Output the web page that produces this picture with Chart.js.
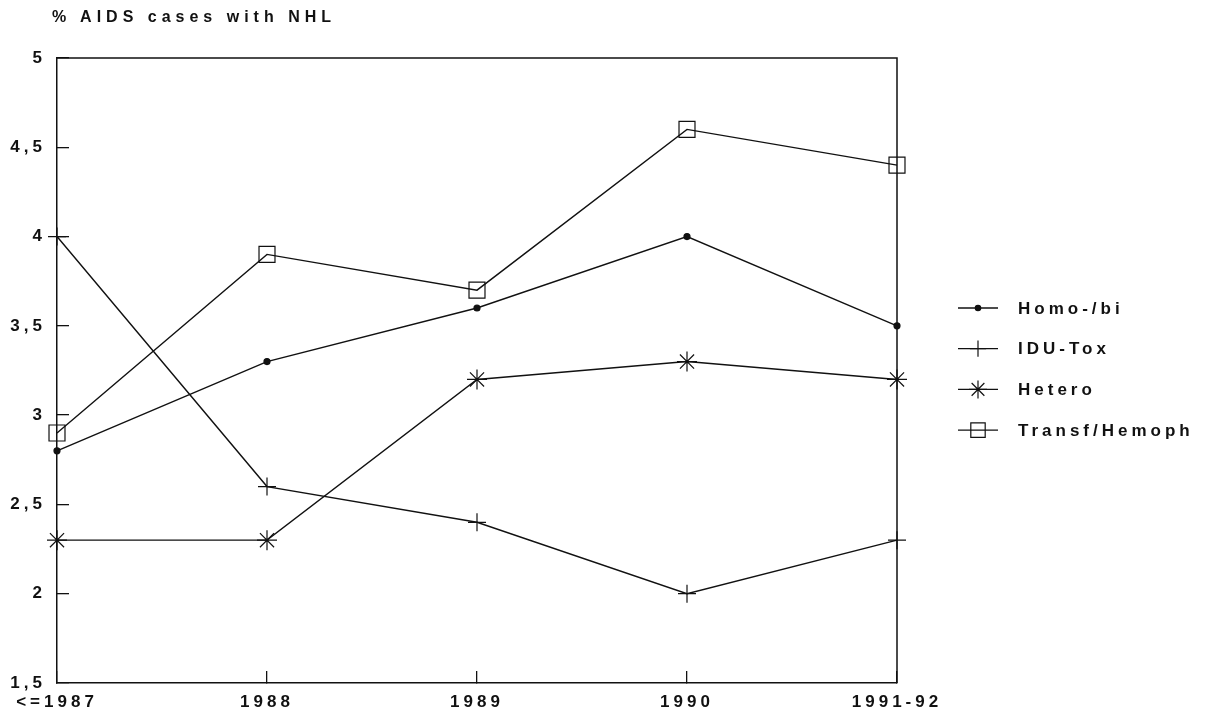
<!DOCTYPE html>
<html>
<head>
<meta charset="utf-8">
<script src="https://cdn.jsdelivr.net/npm/chart.js@4.4.1/dist/chart.umd.min.js"></script>
<style>
  body { margin: 0; background: #fff; }
  #wrap { position: relative; width: 1210px; height: 720px; }
  #title {
    position: absolute; left: 52px; top: 8px;
    font: bold 16px "Liberation Sans", Arial, sans-serif;
    letter-spacing: 5px; line-height: 18px; color: #111;
  }
</style>
</head>
<body>
<div id="wrap">
  <canvas id="myChart" width="1210" height="720"></canvas>
  <div id="title">% AIDS cases with NHL</div>
</div>
<script>
// Categories along the x axis
var years = ["<=1987", "1988", "1989", "1990", "1991-92"];

// Series values (% of AIDS cases with NHL)
var homoBi = [2.8, 3.3, 3.6, 4.0, 3.5];
var iduTox = [4.0, 2.6, 2.4, 2.0, 2.3];
var hetero = [2.3, 2.3, 3.2, 3.3, 3.2];
var transfHemoph = [2.9, 3.9, 3.7, 4.6, 4.4];

var seriesNames = ["Homo-/bi", "IDU-Tox", "Hetero", "Transf/Hemoph"];

// Y tick labels (decimal comma)
var yTickValues = [1.5, 2, 2.5, 3, 3.5, 4, 4.5, 5];
var yTickLabels = ["1,5", "2", "2,5", "3", "3,5", "4", "4,5", "5"];

var INK = "#111";
var FONT = "'Liberation Sans', Arial, sans-serif";

function makeDataset(label, data, style, radius, fill) {
    return {
        label: label,
        data: data,
        borderColor: INK,
        borderWidth: 1.4,
        pointStyle: style,
        pointRadius: radius,
        pointHoverRadius: radius,
        pointBorderColor: INK,
        pointBorderWidth: 1.2,
        pointBackgroundColor: fill,
        tension: 0,
        clip: false
    };
}

// canvas letter spacing to mimic the wide old typewriter-ish labels
var spacingPlugin = {
    id: "spacing",
    beforeUpdate: function(chart) { chart.ctx.letterSpacing = "4px"; },
    beforeLayout: function(chart) { chart.ctx.letterSpacing = "4px"; },
    beforeDraw: function(chart) { chart.ctx.letterSpacing = "4px"; }
};

// closes the box (top + right) like the original frame
var framePlugin = {
    id: "frame",
    afterDatasetsDraw: function(chart) {
        var a = chart.chartArea, ctx = chart.ctx;
        ctx.save();
        ctx.strokeStyle = INK;
        ctx.lineWidth = 1.5;
        ctx.beginPath();
        ctx.moveTo(a.left, a.top);
        ctx.lineTo(a.right, a.top);
        ctx.lineTo(a.right, a.bottom);
        ctx.stroke();
        ctx.restore();
    }
};

// legend on the right: short line with the marker, then the name
var legendPlugin = {
    id: "sideLegend",
    afterDraw: function(chart) {
        var ctx = chart.ctx;
        var x0 = chart.chartArea.right + 61;
        var y0 = 308;
        ctx.save();
        ctx.letterSpacing = "4px";
        chart.data.datasets.forEach(function(ds, i) {
            var y = y0 + i * 40.7;
            ctx.strokeStyle = INK;
            ctx.lineWidth = 1.3;
            ctx.beginPath();
            ctx.moveTo(x0, y);
            ctx.lineTo(x0 + 40, y);
            ctx.stroke();
            ctx.fillStyle = ds.pointBackgroundColor;
            ctx.strokeStyle = INK;
            ctx.lineWidth = ds.pointBorderWidth;
            Chart.helpers.drawPoint(ctx, {
                pointStyle: ds.pointStyle,
                radius: ds.pointRadius * 0.9,
                rotation: 0,
                borderWidth: ds.pointBorderWidth
            }, x0 + 20, y);
            ctx.fillStyle = INK;
            ctx.font = "bold 17px " + FONT;
            ctx.textBaseline = "middle";
            ctx.textAlign = "left";
            ctx.fillText(ds.label, x0 + 60, y + 1);
        });
        ctx.restore();
    }
};

var ctx = document.getElementById("myChart").getContext("2d");
new Chart(ctx, {
    type: "line",
    data: {
        labels: years,
        datasets: [
            makeDataset(seriesNames[0], homoBi, "circle", 3, INK),
            makeDataset(seriesNames[1], iduTox, "cross", 9, INK),
            makeDataset(seriesNames[2], hetero, "star", 10, INK),
            makeDataset(seriesNames[3], transfHemoph, "rect", 11.3, "rgba(0,0,0,0)")
        ]
    },
    options: {
        responsive: false,
        animation: false,
        layout: { padding: { top: 58, right: 313, bottom: 0, left: 0 } },
        plugins: {
            legend: { display: false },
            tooltip: { enabled: false },
            title: { display: false }
        },
        scales: {
            x: {
                type: "category",
                offset: false,
                afterFit: function(scale) {
                    scale.height = 37;
                    // the first label may hang out to the left, as in the original
                    scale.paddingLeft = 0;
                    scale.paddingRight = 0;
                },
                grid: {
                    offset: false,
                    drawOnChartArea: false,
                    drawTicks: true,
                    tickLength: -12,
                    color: INK,
                    lineWidth: 1.3
                },
                border: { display: true, color: INK, width: 1.5 },
                ticks: {
                    color: INK,
                    padding: 21,
                    maxRotation: 0,
                    autoSkip: false,
                    font: { family: FONT, size: 17, weight: "bold" }
                }
            },
            y: {
                min: 1.5,
                max: 5,
                afterFit: function(scale) { scale.width = 57; },
                afterBuildTicks: function(scale) {
                    scale.ticks = yTickValues.map(function(v) { return { value: v }; });
                },
                grid: {
                    drawOnChartArea: false,
                    drawTicks: true,
                    tickLength: -12,
                    color: INK,
                    lineWidth: 1.3
                },
                border: { display: true, color: INK, width: 1.5 },
                ticks: {
                    color: INK,
                    padding: 23,
                    font: { family: FONT, size: 17, weight: "bold" },
                    callback: function(value) {
                        var i = yTickValues.indexOf(value);
                        return i >= 0 ? yTickLabels[i] : "";
                    }
                }
            }
        }
    },
    plugins: [spacingPlugin, framePlugin, legendPlugin]
});
</script>
</body>
</html>
